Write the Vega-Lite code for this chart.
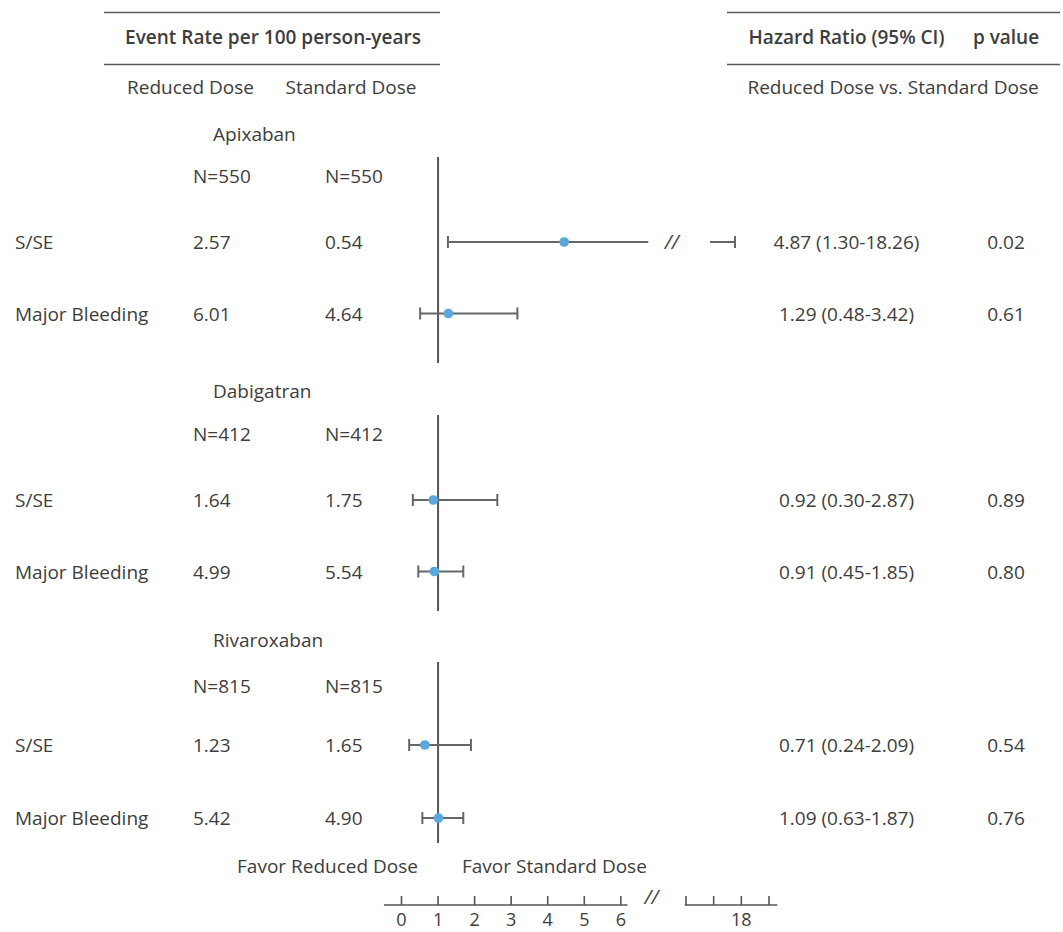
{
  "$schema": "https://vega.github.io/schema/vega-lite/v6.json",
  "width": 1063,
  "height": 932,
  "padding": 0,
  "autosize": "none",
  "background": "white",
  "config": {"view": {"stroke": null}, "text": {"font": "Open Sans", "fontSize": 19, "color": "#3d3d3d", "baseline": "alphabetic", "dy": 7}},
  "datasets": {
    "hlines": [
      {"row": 0, "col": 1, "col2": 9}, {"row": 0, "col": 11, "col2": 15},
      {"row": 2, "col": 1, "col2": 9}, {"row": 2, "col": 11, "col2": 15}
    ],
    "leftText": [
      {"row": 4, "col": 4, "text": "Apixaban"},
      {"row": 6, "col": 3, "text": "N=550"}, {"row": 6, "col": 6, "text": "N=550"},
      {"row": 7, "col": 0, "text": "S/SE"}, {"row": 7, "col": 3, "text": "2.57"}, {"row": 7, "col": 6, "text": "0.54"},
      {"row": 8, "col": 0, "text": "Major Bleeding"}, {"row": 8, "col": 3, "text": "6.01"}, {"row": 8, "col": 6, "text": "4.64"},
      {"row": 10, "col": 4, "text": "Dabigatran"},
      {"row": 12, "col": 3, "text": "N=412"}, {"row": 12, "col": 6, "text": "N=412"},
      {"row": 13, "col": 0, "text": "S/SE"}, {"row": 13, "col": 3, "text": "1.64"}, {"row": 13, "col": 6, "text": "1.75"},
      {"row": 14, "col": 0, "text": "Major Bleeding"}, {"row": 14, "col": 3, "text": "4.99"}, {"row": 14, "col": 6, "text": "5.54"},
      {"row": 16, "col": 4, "text": "Rivaroxaban"},
      {"row": 18, "col": 3, "text": "N=815"}, {"row": 18, "col": 6, "text": "N=815"},
      {"row": 19, "col": 0, "text": "S/SE"}, {"row": 19, "col": 3, "text": "1.23"}, {"row": 19, "col": 6, "text": "1.65"},
      {"row": 20, "col": 0, "text": "Major Bleeding"}, {"row": 20, "col": 3, "text": "5.42"}, {"row": 20, "col": 6, "text": "4.90"},
      {"row": 22, "col": 10, "text": "Favor Standard Dose"}
    ],
    "topHeaders": [
      {"row": 1, "col": 5, "text": "Event Rate per 100 person-years"},
      {"row": 1, "col": 12, "text": "Hazard Ratio (95% CI)"},
      {"row": 1, "col": 14, "text": "p value"}
    ],
    "centerText": [
      {"row": 3, "col": 2, "text": "Reduced Dose"},
      {"row": 3, "col": 7, "text": "Standard Dose"},
      {"row": 3, "col": 13, "text": "Reduced Dose vs. Standard Dose"},
      {"row": 7, "col": 12, "text": "4.87 (1.30-18.26)"}, {"row": 7, "col": 14, "text": "0.02"},
      {"row": 8, "col": 12, "text": "1.29 (0.48-3.42)"}, {"row": 8, "col": 14, "text": "0.61"},
      {"row": 13, "col": 12, "text": "0.92 (0.30-2.87)"}, {"row": 13, "col": 14, "text": "0.89"},
      {"row": 14, "col": 12, "text": "0.91 (0.45-1.85)"}, {"row": 14, "col": 14, "text": "0.80"},
      {"row": 19, "col": 12, "text": "0.71 (0.24-2.09)"}, {"row": 19, "col": 14, "text": "0.54"},
      {"row": 20, "col": 12, "text": "1.09 (0.63-1.87)"}, {"row": 20, "col": 14, "text": "0.76"}
    ],
    "rightText": [
      {"row": 22, "col": 8, "text": "Favor Reduced Dose"}
    ],
    "refLine": [
      {"drug": "Apixaban", "row": 5, "row2": 9},
      {"drug": "Dabigatran", "row": 11, "row2": 15},
      {"drug": "Rivaroxaban", "row": 17, "row2": 21}
    ],
    "estimates": [
      {"drug": "Apixaban", "outcome": "S/SE", "row": 7, "hr": 4.45, "lo": 1.27, "hi": 17.77},
      {"drug": "Apixaban", "outcome": "Major Bleeding", "row": 8, "hr": 1.28, "lo": 0.51, "hi": 3.17},
      {"drug": "Dabigatran", "outcome": "S/SE", "row": 13, "hr": 0.87, "lo": 0.31, "hi": 2.62},
      {"drug": "Dabigatran", "outcome": "Major Bleeding", "row": 14, "hr": 0.9, "lo": 0.46, "hi": 1.69},
      {"drug": "Rivaroxaban", "outcome": "S/SE", "row": 19, "hr": 0.64, "lo": 0.21, "hi": 1.9},
      {"drug": "Rivaroxaban", "outcome": "Major Bleeding", "row": 20, "hr": 1.01, "lo": 0.57, "hi": 1.69}
    ],
    "ciSegments": [
      {"row": 7, "lo": 1.27, "hi": 6.75},
      {"row": 7, "lo": 16.87, "hi": 17.77},
      {"row": 8, "lo": 0.51, "hi": 3.17},
      {"row": 13, "lo": 0.31, "hi": 2.62},
      {"row": 14, "lo": 0.46, "hi": 1.69},
      {"row": 19, "lo": 0.21, "hi": 1.9},
      {"row": 20, "lo": 0.57, "hi": 1.69}
    ],
    "axisLine": [
      {"row": 23, "lo": -0.48, "hi": 6.18},
      {"row": 23, "lo": 15.64, "hi": 19.3}
    ],
    "axisTicks": [
      {"row": 23, "v": 0}, {"row": 23, "v": 1}, {"row": 23, "v": 2}, {"row": 23, "v": 3},
      {"row": 23, "v": 4}, {"row": 23, "v": 5}, {"row": 23, "v": 6},
      {"row": 23, "v": 16}, {"row": 23, "v": 17}, {"row": 23, "v": 18}, {"row": 23, "v": 19}
    ],
    "axisLabels": [
      {"row": 24, "v": 0, "label": "0"}, {"row": 24, "v": 1, "label": "1"}, {"row": 24, "v": 2, "label": "2"},
      {"row": 24, "v": 3, "label": "3"}, {"row": 24, "v": 4, "label": "4"}, {"row": 24, "v": 5, "label": "5"},
      {"row": 24, "v": 6, "label": "6"}, {"row": 24, "v": 18, "label": "18"}
    ],
    "breakCI": [{"row": 7, "v": 11.5, "label": "//"}],
    "breakAxis": [{"row": 23, "v": 6.84, "label": "//"}]
  },
  "encoding": {
    "y": {
      "field": "row", "type": "quantitative", "axis": null,
      "scale": {
        "type": "linear", "zero": false, "nice": false,
        "domain": [0,1,2,3,4,5,6,7,8,9,10,11,12,13,14,15,16,17,18,19,20,21,22,23,24],
        "range": [12.5,36.5,64.5,86.5,133.7,157,175.5,242,313.5,363,391,415,434,500,571.5,611,640,662,686,745,818,843,865.5,905,920]
      }
    }
  },
  "layer": [
    {
      "encoding": {
        "x": {
          "field": "col", "type": "quantitative", "axis": null,
          "scale": {
            "type": "linear", "zero": false, "nice": false,
            "domain": [0,1,2,3,4,5,6,7,8,9,10,11,12,13,14,15],
            "range": [15,104,190.5,193,213,273,325,351,418,440,462,727,846.5,893,1006,1060]
          }
        }
      },
      "layer": [
        {
          "data": {"name": "hlines"},
          "mark": {"type": "rule", "color": "#5a5a5a", "strokeWidth": 1.6},
          "encoding": {"x2": {"field": "col2"}}
        },
        {
          "data": {"name": "leftText"},
          "mark": {"type": "text", "align": "left"},
          "encoding": {"text": {"field": "text"}}
        },
        {
          "data": {"name": "topHeaders"},
          "mark": {"type": "text", "align": "center", "fontWeight": 600},
          "encoding": {"text": {"field": "text"}}
        },
        {
          "data": {"name": "centerText"},
          "mark": {"type": "text", "align": "center"},
          "encoding": {"text": {"field": "text"}}
        },
        {
          "data": {"name": "rightText"},
          "mark": {"type": "text", "align": "right"},
          "encoding": {"text": {"field": "text"}}
        }
      ]
    },
    {
      "layer": [
        {
          "data": {"name": "refLine"},
          "mark": {"type": "rule", "color": "#555555", "strokeWidth": 2},
          "encoding": {
            "x": {"datum": 1, "type": "quantitative", "axis": null, "scale": {"type": "linear", "zero": false, "nice": false, "domain": [0,7,16,20], "range": [401.5,657.4,686,796.7]}},
            "y2": {"field": "row2"}
          }
        },
        {
          "data": {"name": "ciSegments"},
          "mark": {"type": "rule", "color": "#666666", "strokeWidth": 2},
          "encoding": {
            "x": {"field": "lo", "type": "quantitative", "axis": null, "scale": {"type": "linear", "zero": false, "nice": false, "domain": [0,7,16,20], "range": [401.5,657.4,686,796.7]}},
            "x2": {"field": "hi"}
          }
        },
        {
          "data": {"name": "estimates"},
          "mark": {"type": "rule", "color": "#666666", "strokeWidth": 2, "yOffset": -6, "y2Offset": 6},
          "encoding": {
            "x": {"field": "lo", "type": "quantitative", "axis": null, "scale": {"type": "linear", "zero": false, "nice": false, "domain": [0,7,16,20], "range": [401.5,657.4,686,796.7]}},
            "y2": {"field": "row"}
          }
        },
        {
          "data": {"name": "estimates"},
          "mark": {"type": "rule", "color": "#666666", "strokeWidth": 2, "yOffset": -6, "y2Offset": 6},
          "encoding": {
            "x": {"field": "hi", "type": "quantitative", "axis": null, "scale": {"type": "linear", "zero": false, "nice": false, "domain": [0,7,16,20], "range": [401.5,657.4,686,796.7]}},
            "y2": {"field": "row"}
          }
        },
        {
          "data": {"name": "estimates"},
          "mark": {"type": "circle", "color": "#5aa8de", "opacity": 1, "size": 95},
          "encoding": {
            "x": {"field": "hr", "type": "quantitative", "axis": null, "scale": {"type": "linear", "zero": false, "nice": false, "domain": [0,7,16,20], "range": [401.5,657.4,686,796.7]}}
          }
        },
        {
          "data": {"name": "axisLine"},
          "mark": {"type": "rule", "color": "#555555", "strokeWidth": 1.6},
          "encoding": {
            "x": {"field": "lo", "type": "quantitative", "axis": null, "scale": {"type": "linear", "zero": false, "nice": false, "domain": [0,7,16,20], "range": [401.5,657.4,686,796.7]}},
            "x2": {"field": "hi"}
          }
        },
        {
          "data": {"name": "axisTicks"},
          "mark": {"type": "rule", "color": "#555555", "strokeWidth": 1.6, "yOffset": -9, "y2Offset": 0},
          "encoding": {
            "x": {"field": "v", "type": "quantitative", "axis": null, "scale": {"type": "linear", "zero": false, "nice": false, "domain": [0,7,16,20], "range": [401.5,657.4,686,796.7]}},
            "y2": {"field": "row"}
          }
        },
        {
          "data": {"name": "axisLabels"},
          "mark": {"type": "text", "align": "center", "fontSize": 18, "dy": 6},
          "encoding": {
            "x": {"field": "v", "type": "quantitative", "axis": null, "scale": {"type": "linear", "zero": false, "nice": false, "domain": [0,7,16,20], "range": [401.5,657.4,686,796.7]}},
            "text": {"field": "label"}
          }
        },
        {
          "data": {"name": "breakCI"},
          "mark": {"type": "text", "align": "center", "fontSize": 20, "fontStyle": "italic", "color": "#444444"},
          "encoding": {
            "x": {"field": "v", "type": "quantitative", "axis": null, "scale": {"type": "linear", "zero": false, "nice": false, "domain": [0,7,16,20], "range": [401.5,657.4,686,796.7]}},
            "text": {"field": "label"}
          }
        },
        {
          "data": {"name": "breakAxis"},
          "mark": {"type": "text", "align": "center", "fontSize": 20, "fontStyle": "italic", "color": "#444444", "dy": -1},
          "encoding": {
            "x": {"field": "v", "type": "quantitative", "axis": null, "scale": {"type": "linear", "zero": false, "nice": false, "domain": [0,7,16,20], "range": [401.5,657.4,686,796.7]}},
            "text": {"field": "label"}
          }
        }
      ]
    }
  ],
  "resolve": {"scale": {"x": "independent"}}
}
